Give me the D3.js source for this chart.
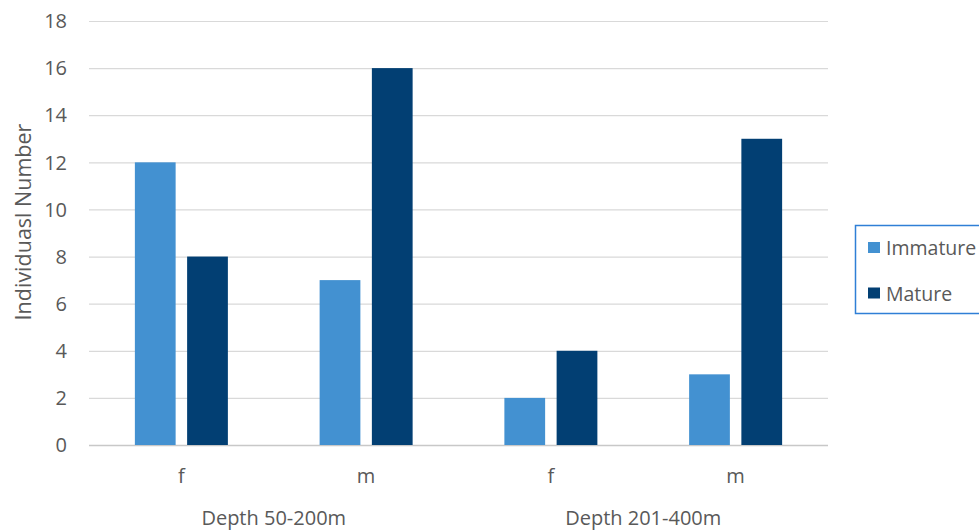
<!DOCTYPE html>
<html><head><meta charset="utf-8">
<script src="https://cdn.jsdelivr.net/npm/d3@7"></script>
<style>body{margin:0;background:#fff;}svg{display:block;font-family:"Open Sans",sans-serif;}</style>
</head><body>
<svg id="c" width="979" height="531"></svg>
<script>
const groups = ["Depth 50-200m", "Depth 201-400m"];
const categories = ["f", "m", "f", "m"];
const categoryGroup = [0, 0, 1, 1];
const seriesNames = ["Immature", "Mature"];
const immature = [12, 7, 2, 3];
const mature = [8, 16, 4, 13];
const yTicks = [0, 2, 4, 6, 8, 10, 12, 14, 16, 18];
const colors = ["#4391d1", "#023f73"];

(function () {
const svg = d3.select("#c");
const mLeft = 89, mRight = 828, mTop = 21, mBottom = 445;
const x = d3.scaleBand().domain(d3.range(categories.length)).range([mLeft, mRight]).paddingInner(0).paddingOuter(0);
const y = d3.scaleLinear().domain([0, 18]).range([mBottom, mTop]);
const inner = d3.scaleBand().domain([0, 1]).range([0, 93]).paddingInner(0.22);
const txt = "#595959";

svg.append("g").selectAll("line").data(yTicks).join("line")
  .attr("x1", mLeft).attr("x2", mRight)
  .attr("y1", d => y(d) + 0.5).attr("y2", d => y(d) + 0.5)
  .attr("stroke", d => d === 0 ? "#c8c8c8" : "#d9d9d9").attr("stroke-width", d => d === 0 ? 1.5 : 1.2);

svg.append("g").selectAll("text").data(yTicks).join("text")
  .attr("x", 67).attr("y", d => y(d)).attr("dy", "0.36em")
  .attr("text-anchor", "end").attr("font-size", 20).attr("fill", txt).text(d => d);

svg.append("text").attr("transform", "translate(31,222) rotate(-90)")
  .attr("text-anchor", "middle").attr("font-size", 21.5).attr("fill", txt)
  .text("Individuasl Number");

const series = [immature, mature];
series.forEach((vals, si) => {
  svg.append("g").selectAll("rect").data(vals).join("rect")
    .attr("x", (d, i) => x(i) + x.bandwidth() / 2 - 46.5 + inner(si))
    .attr("width", inner.bandwidth())
    .attr("y", d => y(d)).attr("height", d => y(0) - y(d))
    .attr("fill", colors[si]);
});

svg.append("g").selectAll("text").data(categories).join("text")
  .attr("x", (d, i) => x(i) + x.bandwidth() / 2).attr("y", 483)
  .attr("text-anchor", "middle").attr("font-size", 20).attr("fill", txt).text(d => d);

svg.append("g").selectAll("text").data(groups).join("text")
  .attr("x", (d, gi) => {
    const idx = categoryGroup.map((g, i) => g === gi ? i : -1).filter(i => i >= 0);
    return (x(idx[0]) + x(idx[idx.length - 1]) + x.bandwidth()) / 2;
  })
  .attr("y", 525).attr("text-anchor", "middle").attr("font-size", 20).attr("fill", txt).text(d => d);

const lg = svg.append("g");
lg.append("rect").attr("x", 855.5).attr("y", 225.5).attr("width", 140).attr("height", 88)
  .attr("fill", "#fff").attr("stroke", "#2f7fd6").attr("stroke-width", 1.5);
seriesNames.forEach((n, i) => {
  lg.append("rect").attr("x", 868).attr("y", 242 + i * 45.5).attr("width", 12).attr("height", 11).attr("fill", colors[i]);
  lg.append("text").attr("x", 886).attr("y", 255 + i * 45.5)
    .attr("font-size", 19.5).attr("fill", txt).text(n);
});
})();
</script>
</body></html>
